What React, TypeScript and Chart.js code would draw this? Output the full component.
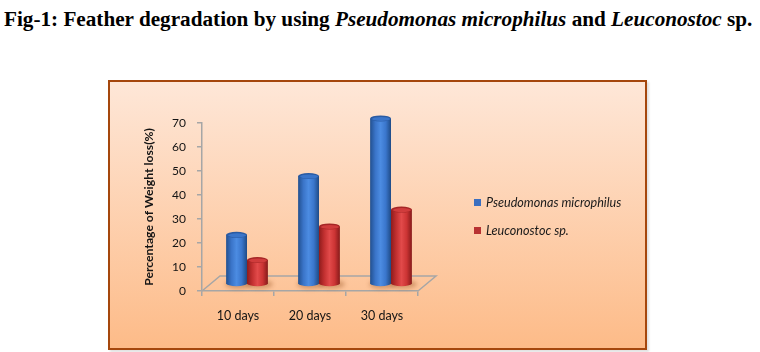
import React, { useEffect, useRef } from "react";
import { Chart, registerables } from "chart.js";
Chart.register(...registerables);

const categories = ["10 days", "20 days", "30 days"];
const seriesNames = ["Pseudomonas microphilus", "Leuconostoc sp."];
const pseudomonasValues = [20.5, 45, 69];
const leuconostocValues = [10, 24, 31];
const yMin = 0;
const yMax = 70;
const yStep = 10;
const yTitle = "Percentage of Weight loss(%)";

const FONT = 'Lato, "Liberation Sans", sans-serif';
const AXIS_GREY = "#a6a6a6";
const DEPTH_X = 18;
const DEPTH_Y = 15;
const BAR_DX = 9;
const BAR_DY = 7;

const palettes = [
  { stops: ["#22508f", "#3a74c8", "#4c8ce2", "#3a76cc", "#1f4b86"], cap: "#3b75c9", rim: "#2a5ba3", legend: "#3b6fc0" },
  { stops: ["#8f1c1c", "#c23030", "#e24a4a", "#cc3434", "#861a1a"], cap: "#d03c3c", rim: "#a52626", legend: "#b83232" },
];

const floorPlugin = {
  id: "floor3d",
  beforeDatasetsDraw(chart: any) {
    const ctx = chart.ctx;
    const area = chart.chartArea;
    const y0 = chart.scales.y.getPixelForValue(0);
    ctx.save();
    ctx.strokeStyle = AXIS_GREY;
    ctx.lineWidth = 1.5;
    ctx.beginPath();
    ctx.moveTo(area.left, y0);
    ctx.lineTo(area.left + DEPTH_X, y0 - DEPTH_Y);
    ctx.lineTo(area.right + DEPTH_X, y0 - DEPTH_Y);
    ctx.lineTo(area.right, y0);
    ctx.stroke();
    ctx.restore();
    ctx.save();
    ctx.translate(BAR_DX, -BAR_DY);
  },
  afterDatasetsDraw(chart: any) {
    const ctx = chart.ctx;
    chart.data.datasets.forEach((ds: any, di: number) => {
      const meta = chart.getDatasetMeta(di);
      const pal = palettes[di];
      meta.data.forEach((bar: any) => {
        const w = bar.width;
        const l = bar.x - w / 2;
        const r = bar.x + w / 2;
        const top = bar.y;
        const base = bar.base;
        const ry = 3;
        ctx.save();
        ctx.fillStyle = "rgba(140,70,20,0.35)";
        ctx.filter = "blur(2px)";
        ctx.beginPath();
        ctx.ellipse(bar.x + 2, base + 1, w / 2 + 3, ry + 1.5, 0, 0, Math.PI * 2);
        ctx.fill();
        ctx.restore();
        const g = ctx.createLinearGradient(l, 0, r, 0);
        pal.stops.forEach((c: string, i: number) => g.addColorStop(i / (pal.stops.length - 1), c));
        ctx.fillStyle = g;
        ctx.beginPath();
        ctx.moveTo(l, top);
        ctx.lineTo(l, base);
        ctx.ellipse(bar.x, base, w / 2, ry, 0, Math.PI, 0, true);
        ctx.lineTo(r, top);
        ctx.closePath();
        ctx.fill();
        ctx.beginPath();
        ctx.ellipse(bar.x, top, w / 2, ry, 0, 0, Math.PI * 2);
        ctx.fillStyle = pal.rim;
        ctx.fill();
        ctx.beginPath();
        ctx.ellipse(bar.x + 0.5, top + 0.5, w / 2 - 1.5, ry - 1, 0, 0, Math.PI * 2);
        ctx.fillStyle = pal.cap;
        ctx.fill();
      });
    });
    ctx.restore();
  },
};

export default function App() {
  const ref = useRef<HTMLCanvasElement>(null);
  useEffect(() => {
    if (!ref.current) return;
    const chart = new Chart(ref.current, {
      type: "bar",
      data: {
        labels: categories,
        datasets: [
          { label: seriesNames[0], data: pseudomonasValues, backgroundColor: "transparent", barPercentage: 1, categoryPercentage: 0.58 },
          { label: seriesNames[1], data: leuconostocValues, backgroundColor: "transparent", barPercentage: 1, categoryPercentage: 0.58 },
        ],
      },
      options: {
        responsive: false,
        animation: false,
        devicePixelRatio: 1,
        layout: { padding: { left: 138, right: 342, top: 123, bottom: 10 } },
        plugins: { legend: { display: false }, tooltip: { enabled: false } },
        scales: {
          x: {
            offset: true,
            grid: { offset: true, drawOnChartArea: false, tickLength: 5, color: AXIS_GREY, lineWidth: 1.5 },
            border: { color: AXIS_GREY, width: 1.5 },
            ticks: { color: "#141414", font: { family: FONT, size: 12.5 }, padding: 12, maxRotation: 0 },
            afterFit: (s: any) => { s.height = 51; },
          },
          y: {
            min: yMin,
            max: yMax,
            ticks: { stepSize: yStep, color: "#141414", font: { family: FONT, size: 12 }, padding: 11 },
            grid: { drawOnChartArea: false, tickLength: 5, color: AXIS_GREY, lineWidth: 1.5 },
            border: { color: AXIS_GREY, width: 1.5 },
            title: { display: true, text: yTitle, color: "#141414", font: { family: FONT, size: 12.2, weight: "bold" }, padding: { top: 4, bottom: 4 } },
            afterFit: (s: any) => { s.width = 64; },
          },
        },
      },
      plugins: [floorPlugin],
    });
    return () => chart.destroy();
  }, []);

  const legendTops = [194, 222];
  return (
    <div style={{ position: "absolute", left: 0, top: 0, width: 760, height: 352, overflow: "hidden", background: "#fff" }}>
      <div style={{ position: "absolute", left: 4, top: 7, fontFamily: '"Liberation Serif", "Times New Roman", serif', fontWeight: "bold", fontSize: 21.2, whiteSpace: "nowrap", color: "#000" }}>
        Fig-1: Feather degradation by using <i>Pseudomonas microphilus</i> and <i>Leuconostoc</i> sp.
      </div>
      <div style={{ position: "absolute", left: 108, top: 80, width: 539, height: 270, boxSizing: "border-box", border: "2px solid #a5470d", background: "linear-gradient(to bottom, #fee7d8, #fdbb88)", boxShadow: "2px 2px 2px rgba(0,0,0,0.12)" }} />
      <canvas ref={ref} width={760} height={352} style={{ position: "absolute", left: 0, top: 0, width: 760, height: 352 }} />
      {seriesNames.map((n, i) => (
        <div key={n} style={{ position: "absolute", left: 474, top: legendTops[i], height: 16, display: "flex", alignItems: "center", fontFamily: FONT, fontStyle: "italic", fontSize: 12.6, color: "#1a1a1a", whiteSpace: "nowrap" }}>
          <span style={{ display: "inline-block", width: 7, height: 7, background: palettes[i].legend, marginRight: 5 }} />
          {n}
        </div>
      ))}
    </div>
  );
}
